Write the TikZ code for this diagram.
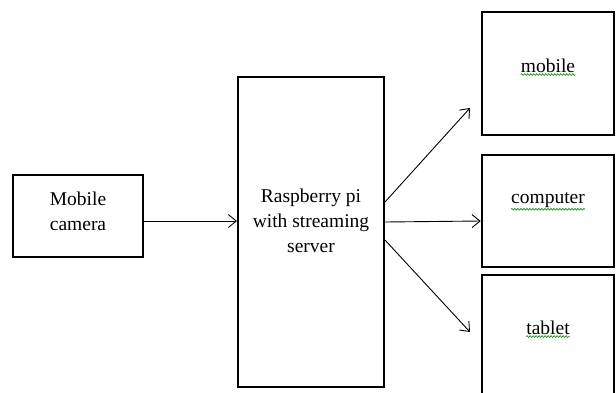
\documentclass[tikz,border=0pt]{standalone}
\usepackage{fontspec}
\setmainfont{Liberation Serif}
\usetikzlibrary{arrows.meta,decorations.pathmorphing}
\begin{document}
\begin{tikzpicture}[x=1pt,y=-1pt,
  box/.style={draw=black,rectangle,inner sep=0pt},
  lbl/.style={font=\fontsize{19.5}{25}\selectfont,align=center,inner sep=0pt,text=black},
  conn/.style={draw=black,line width=0.9pt,-{Straight Barb[length=8pt,width=13pt,line width=0.9pt]}},
  spell/.style={draw=green!55!black,line width=0.6pt,decorate,decoration={snake,amplitude=0.9pt,segment length=3pt}}]
\useasboundingbox[fill=white] (0,0) rectangle (616,392);
\clip (0,0) rectangle (616,392);
% boxes
\node[box,line width=2.8pt,minimum width=130pt,minimum height=82pt] (cam) at (78,216) {};
\node[box,line width=2pt,minimum width=146pt,minimum height=310pt] (rp) at (311,232) {};
\node[box,line width=2.5pt,minimum width=132pt,minimum height=123pt] (mob) at (548,73.5) {};
\node[box,line width=2.5pt,minimum width=132pt,minimum height=112pt] (comp) at (548,211) {};
\node[box,line width=2.5pt,minimum width=132pt,minimum height=135pt] (tab) at (548,342.5) {};
% texts
\node[lbl] (tcam) at (78,211) {Mobile\\camera};
\node[lbl] (trp) at (311,221) {Raspberry pi\\with streaming\\server};
\node[lbl] (tmob) at (548,66) {mobile};
\node[lbl] (tcomp) at (548,200) {computer};
\node[lbl] (ttab) at (548,328) {tablet};
% spelling underlines
\draw[spell] ([yshift=-1.5pt]tmob.south west) -- ([yshift=-1.5pt]tmob.south east);
\draw[spell] ([yshift=-1.5pt]tcomp.south west) -- ([yshift=-1.5pt]tcomp.south east);
\draw[spell] ([yshift=-1.5pt]ttab.south west) -- ([yshift=-1.5pt]ttab.south east);
% connectors
\coordinate (up) at (470,108);
\coordinate (dn) at (470,332);
\draw[conn] (cam.east |- 0,221) -- (rp.west |- 0,221);
\draw[conn] (rp.east |- 0,202) -- (up);
\draw[conn] (rp.east |- 0,222) -- (comp.west |- 0,221);
\draw[conn] (rp.east |- 0,240) -- (dn);
\end{tikzpicture}
\end{document}
